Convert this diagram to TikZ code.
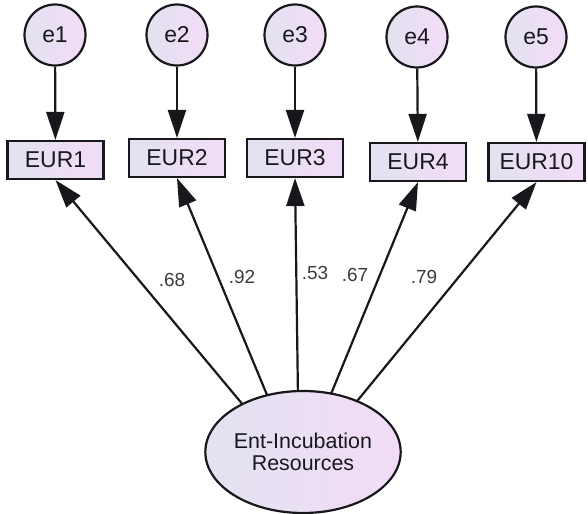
\documentclass[tikz,border=0pt]{standalone}
\usepackage{fontspec}
\setmainfont{Liberation Sans}
\usetikzlibrary{arrows.meta,backgrounds,calc,shapes.geometric}
\definecolor{fillL}{RGB}{226,226,240}
\definecolor{fillR}{RGB}{242,220,247}
\definecolor{ink}{RGB}{24,24,28}
\tikzset{
  every node/.style={text=ink},
  errc/.style={circle, draw=ink, line width=2.2bp, left color=fillL, right color=fillR,
    minimum size=61bp, inner sep=0pt, font=\fontsize{23}{25}\selectfont},
  obsbox/.style={rectangle, draw=ink, line width=2.2bp, left color=fillL, right color=fillR,
    minimum width=96bp, minimum height=38bp, inner sep=0pt, font=\fontsize{23}{25}\selectfont},
  latent/.style={ellipse, draw=ink, line width=2.2bp, left color=fillL, right color=fillR,
    minimum width=146bp, minimum height=122bp, inner sep=0pt, align=center,
    font=\fontsize{21.5}{22.5}\selectfont},
  load/.style={draw=ink, line width=2.2bp, -{Triangle[length=28bp,width=18bp]}},
  coef/.style={font=\fontsize{19}{21}\selectfont, text=ink!85},
}
\begin{document}
\begin{tikzpicture}[x=1bp,y=1bp]
\useasboundingbox (0,0) rectangle (588,514);

% error terms
\node[errc] (e1) at (55,479) {e1};
\node[errc] (e2) at (177,479) {e2};
\node[errc] (e3) at (295,479) {e3};
\node[errc] (e4) at (417,477) {e4};
\node[errc] (e5) at (536,477) {e5};

% observed indicators
\node[obsbox] (r1) at (55.5,354) {EUR1};
\node[obsbox] (r2) at (177,356) {EUR2};
\node[obsbox] (r3) at (295,356) {EUR3};
\node[obsbox] (r4) at (418,352) {EUR4};
\node[obsbox] (r5) at (536.5,352) {EUR10};

% latent factor
\node[latent] (lat) at (303,62) {Ent-Incubation\\Resources};
\coordinate (hub) at ($(lat.center)+(-4,-20)$);

% error paths
\foreach \i in {1,...,5} \draw[load] (e\i) -- (r\i);

% factor loadings (behind the factor so they start at its rim)
\begin{scope}[on background layer]
  \draw[load] (hub) -- (r1.south);
  \draw[load] (hub) -- (r2.south);
  \draw[load] (hub) -- (r3.south);
  \draw[load] (hub) -- (r4.south);
  \draw[load] (hub) -- (r5.south);
\end{scope}

% standardized loadings
\node[coef] (c1) at (172,234) {.68};
\node[coef] (c2) at (242,237) {.92};
\node[coef] (c3) at (315,241) {.53};
\node[coef] (c4) at (355,239) {.67};
\node[coef] (c5) at (424,237) {.79};
\end{tikzpicture}
\end{document}
